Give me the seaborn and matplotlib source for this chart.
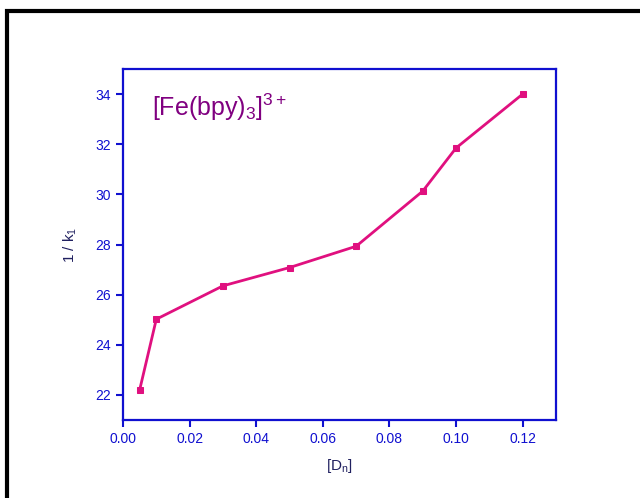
import matplotlib
matplotlib.use("Agg")
import matplotlib.pyplot as plt
import seaborn as sns
import pandas as pd
from matplotlib.patches import Rectangle

conc = [0.005, 0.01, 0.03, 0.05, 0.07, 0.09, 0.10, 0.12]
inv_k = [22.2, 25.02, 26.35, 27.08, 27.93, 30.13, 31.85, 34.0]
xticks = [0.00, 0.02, 0.04, 0.06, 0.08, 0.10, 0.12]
yticks = [22, 24, 26, 28, 30, 32, 34]

df = pd.DataFrame({"x": conc, "y": inv_k})

sns.set_style("white")
plt.rcParams['font.family'] = ['Liberation Sans', 'DejaVu Sans']
plt.rcParams['mathtext.fontset'] = 'custom'
plt.rcParams['mathtext.rm'] = 'Liberation Sans'
plt.rcParams['mathtext.it'] = 'Liberation Sans'

fig = plt.figure(figsize=(6.4, 4.98), dpi=100)
ax = fig.add_axes([123/640, 1-420/498, (556-123)/640, (420-69)/498])

line_c = '#e0107f'
sns.lineplot(data=df, x="x", y="y", ax=ax, color=line_c, lw=2,
             marker='s', markersize=5, markeredgecolor=line_c)

blue = '#1010d0'
ax.set_xlim(0, 0.13)
ax.set_ylim(21, 35)
ax.set_xticks(xticks)
ax.set_xticklabels([f"{v:.2f}" for v in xticks])
ax.set_yticks(yticks)
for s in ax.spines.values():
    s.set_color(blue)
    s.set_linewidth(1.6)
ax.tick_params(direction='out', length=5, width=1.5, color=blue,
               labelcolor=blue, labelsize=10, bottom=True, left=True)
ax.set_xlabel(r"[D$_\mathregular{n}$]", color='#202060', fontsize=11, labelpad=8)
ax.set_ylabel(r"1 / k$_\mathregular{1}$", color='#202060', fontsize=11, labelpad=12)
ax.text(0.068, 0.935, r"[Fe(bpy)$_\mathregular{3}$]$^\mathregular{3+}$", transform=ax.transAxes,
        color='#800080', fontsize=18, va='top', ha='left')

fig.patches.append(Rectangle((7/640, -0.1), 1.2, 1 - 11/498 + 0.1, transform=fig.transFigure,
                             fill=False, edgecolor='black', lw=3))

fig.savefig("out.png", dpi=100)
